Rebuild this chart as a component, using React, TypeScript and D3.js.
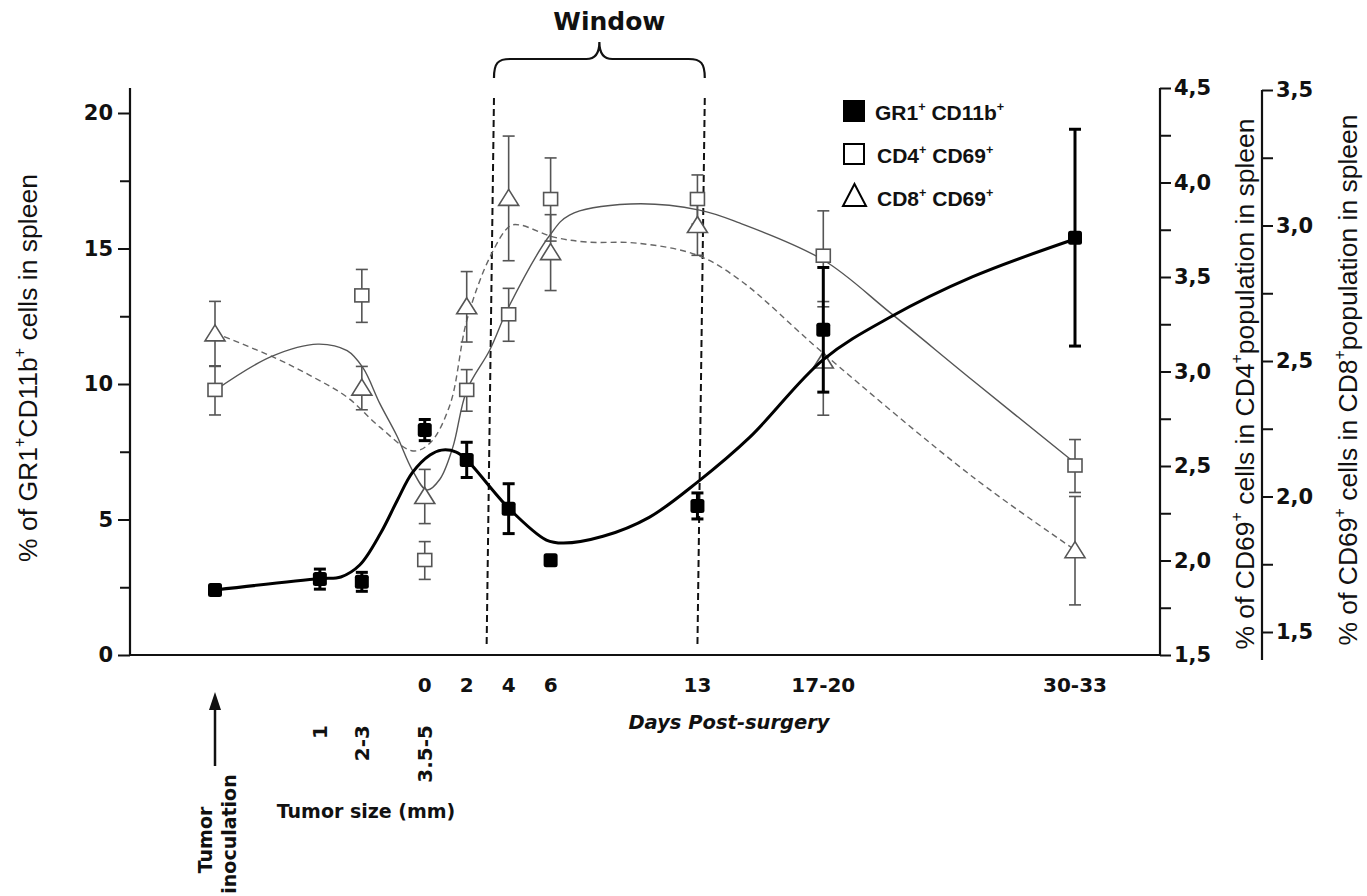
import React, { useEffect, useRef } from 'react';
import * as d3 from 'd3';

// x positions are plotted on a "days" scale (tumor inoculation = -10)
const gr1Days = [-10, -5, -3, 0, 2, 4, 6, 13, 19, 31];
const gr1Values = [2.4, 2.8, 2.7, 8.3, 7.2, 5.4, 3.5, 5.5, 12.0, 15.4];
const gr1Errors = [0.1, 0.37, 0.35, 0.39, 0.65, 0.92, 0.15, 0.48, 2.3, 4.0];

const cd4Days = [-10, -3, 0, 2, 4, 6, 13, 19, 31];
const cd4Values = [2.9, 3.4, 2.0, 2.9, 3.3, 3.91, 3.91, 3.61, 2.5];
const cd4Errors = [0.13, 0.14, 0.1, 0.11, 0.14, 0.22, 0.13, 0.24, 0.14];

const cd8Days = [-10, -3, 0, 2, 4, 6, 13, 19, 31];
const cd8Values = [2.6, 2.4, 2.0, 2.7, 3.1, 2.9, 3.0, 2.5, 1.8];
const cd8Errors = [0.12, 0.08, 0.1, 0.13, 0.23, 0.14, 0.11, 0.2, 0.2];

// fitted curves as drawn in the figure
const gr1FitDays = [-10, -5, -4, -3.1, -2.1, -1.3, -0.6, 0.25, 0.8, 1.5, 2, 4, 5.8, 6.6, 8.5, 10.7, 13, 15.5, 19, 22.2, 26.1, 31];
const gr1FitValues = [2.4, 2.82, 2.88, 3.32, 4.5, 5.72, 6.72, 7.38, 7.56, 7.49, 7.2, 5.42, 4.24, 4.13, 4.38, 5.08, 6.38, 8.04, 10.9, 12.47, 13.95, 15.35];

const cd4FitDays = [-10, -7.3, -5.1, -3.7, -2.95, -2.14, -1.33, -0.6, 0.1, 0.72, 1.34, 2.0, 3.1, 4.0, 5.97, 6.9, 9.8, 13.1, 15.0, 19.0, 22.2, 26.1, 31];
const cd4FitValues = [2.9, 3.08, 3.145, 3.11, 3.02, 2.83, 2.66, 2.48, 2.373, 2.43, 2.6, 2.9, 3.114, 3.341, 3.722, 3.828, 3.886, 3.854, 3.786, 3.59, 3.31, 2.955, 2.516];

const cd8FitDays = [-10, -7.24, -5.33, -3.71, -2.14, -0.56, 0.25, 1.2, 2.01, 3.11, 4.06, 4.54, 6.11, 7.73, 10.11, 12.97, 15.02, 18.98, 26.13, 31];
const cd8FitValues = [2.603, 2.515, 2.441, 2.367, 2.256, 2.168, 2.197, 2.338, 2.651, 2.884, 2.998, 3.002, 2.958, 2.939, 2.935, 2.891, 2.799, 2.53, 2.072, 1.803];

const dayTickDays = [0, 2, 4, 6, 13, 19, 31];
const dayTickLabels = ['0', '2', '4', '6', '13', '17-20', '30-33'];
const sizeTickDays = [-5, -3, 0];
const sizeTickLabels = ['1', '2-3', '3.5-5'];
const inoculationDay = -10;
const windowDays = [3.3, 13.35];

const leftTicks = [0, 5, 10, 15, 20];
const leftMinor = [2.5, 7.5, 12.5, 17.5];
const cd4Ticks = [1.5, 1.75, 2, 2.25, 2.5, 2.75, 3, 3.25, 3.5, 3.75, 4, 4.25, 4.5];
const cd8Ticks = [1.5, 1.75, 2, 2.25, 2.5, 2.75, 3, 3.25, 3.5];

const FONT = 'Arial, "Liberation Sans", Helvetica, sans-serif';
const WIDE = '"DejaVu Sans", Verdana, sans-serif';

type Seg = { t: string; sup?: boolean };

function addRich(sel: any, segs: Seg[], size: number) {
  segs.forEach((s) => {
    if (s.sup) {
      sel.append('tspan').attr('font-size', size * 0.6).attr('baseline-shift', `${size * 0.45}px`).text(s.t);
    } else {
      sel.append('tspan').text(s.t);
    }
  });
}

const App = () => {
  const ref = useRef<SVGSVGElement>(null);

  useEffect(() => {
    if (!ref.current) return;
    const svg = d3.select(ref.current);
    svg.selectAll('*').remove();

    const x = d3.scaleLinear().domain([-10, 31]).range([215, 1075]);
    const yGr1 = d3.scaleLinear().domain([0, 20]).range([655, 113]);
    const yCd4 = d3.scaleLinear().domain([1.5, 4.5]).range([655, 88]);
    const yCd8 = d3.scaleLinear().domain([1.5, 3.5]).range([632, 90]);

    const axL = 130, axR1 = 1160, axR2 = 1262, baseY = 655;
    const comma = (d: any) => d3.format('.1f')(d).replace('.', ',');

    // ---- axes
    svg.append('g').attr('transform', `translate(${axL},0)`)
      .call(d3.axisLeft(yGr1).tickValues(leftTicks).tickSize(12).tickSizeOuter(0).tickPadding(5));
    svg.append('g').attr('transform', `translate(${axL},0)`)
      .call(d3.axisLeft(yGr1).tickValues(leftMinor).tickSize(10).tickSizeOuter(0).tickFormat(() => ''));

    svg.append('g').attr('transform', `translate(${axR1},0)`)
      .call(d3.axisRight(yCd4).tickValues(cd4Ticks).tickSize(11).tickSizeOuter(0).tickPadding(3)
        .tickFormat((d: any) => (Math.round(d * 100) % 50 === 0 ? comma(d) : '')));

    svg.append('g').attr('transform', `translate(${axR2},0)`)
      .call(d3.axisRight(yCd8).tickValues(cd8Ticks).tickSize(11).tickSizeOuter(0).tickPadding(3)
        .tickFormat((d: any) => (Math.round(d * 100) % 50 === 0 ? comma(d) : '')));

    svg.selectAll('.domain').remove();
    svg.selectAll('.tick line').attr('stroke', '#111').attr('stroke-width', 2);
    svg.selectAll('.tick text').attr('font-family', WIDE).attr('font-weight', 'bold')
      .attr('font-size', 21).attr('fill', '#111');

    const axisLine = (x1: number, y1: number, x2: number, y2: number) =>
      svg.append('line').attr('x1', x1).attr('y1', y1).attr('x2', x2).attr('y2', y2)
        .attr('stroke', '#111').attr('stroke-width', 2.2);
    axisLine(axL, 88, axL, baseY);
    axisLine(axL, baseY, axR1, baseY);
    axisLine(axR1, yCd4(4.5), axR1, baseY);
    axisLine(axR2, yCd8(3.5), axR2, 660);

    // ---- axis titles
    const TS = 26.5;
    const title = (cx: number, cy: number, segs: Seg[]) => {
      const t = svg.append('text').attr('x', cx).attr('y', cy)
        .attr('transform', `rotate(-90,${cx},${cy})`)
        .attr('text-anchor', 'middle').attr('font-family', FONT).attr('font-size', TS).attr('fill', '#111');
      addRich(t, segs, TS);
    };
    title(37, 368, [{ t: '% of GR1' }, { t: '+', sup: true }, { t: 'CD11b' }, { t: '+', sup: true }, { t: ' cells in spleen' }]);
    title(1254, 384, [{ t: '% of CD69' }, { t: '+', sup: true }, { t: ' cells in CD4' }, { t: '+', sup: true }, { t: 'population in spleen' }]);
    title(1357, 380, [{ t: '% of CD69' }, { t: '+', sup: true }, { t: ' cells in CD8' }, { t: '+', sup: true }, { t: 'population in spleen' }]);

    // ---- bottom labels
    const bold = (sel: any, fam = WIDE) => sel.attr('font-family', fam).attr('font-weight', 'bold').attr('fill', '#111');
    dayTickDays.forEach((d, i) => {
      bold(svg.append('text')).attr('x', x(d)).attr('y', 692).attr('text-anchor', 'middle')
        .attr('font-size', 20).text(dayTickLabels[i]);
    });
    bold(svg.append('text')).attr('x', 729).attr('y', 729).attr('text-anchor', 'middle')
      .attr('font-size', 19.5).attr('font-style', 'italic').text('Days Post-surgery');

    sizeTickDays.forEach((d, i) => {
      const cx = x(d) + 7, cy = 725;
      bold(svg.append('text')).attr('x', cx).attr('y', cy).attr('transform', `rotate(-90,${cx},${cy})`)
        .attr('text-anchor', 'end').attr('font-size', 20).text(sizeTickLabels[i]);
    });
    bold(svg.append('text')).attr('x', 366).attr('y', 818).attr('text-anchor', 'middle')
      .attr('font-size', 19).text('Tumor size (mm)');

    const xi = x(inoculationDay);
    svg.append('line').attr('x1', xi).attr('x2', xi).attr('y1', 766).attr('y2', 708)
      .attr('stroke', '#111').attr('stroke-width', 2.5);
    svg.append('path').attr('d', `M${xi},692 L${xi - 6},710 L${xi + 6},710 Z`).attr('fill', '#111');
    [['Tumor', xi - 3, 840], ['inoculation', xi + 21, 834]].forEach(([s, cx, cy]: any) => {
      bold(svg.append('text')).attr('x', cx).attr('y', cy).attr('transform', `rotate(-90,${cx},${cy})`)
        .attr('text-anchor', 'middle').attr('font-size', 19).text(s);
    });

    // ---- window
    const [w0, w1] = windowDays;
    [w0, w1].forEach((d) => {
      svg.append('line').attr('x1', x(d)).attr('y1', 98).attr('x2', x(d - 0.35)).attr('y2', 645)
        .attr('stroke', '#111').attr('stroke-width', 2).attr('stroke-dasharray', '7,4');
    });
    const xl = x(w0), xr = x(w1), xm = (xl + xr) / 2;
    svg.append('path')
      .attr('d', `M${xl},78 C${xl},63 ${xl + 4},59 ${xl + 16},59 L${xm - 13},59 C${xm - 4},59 ${xm},53 ${xm},42 C${xm},53 ${xm + 4},59 ${xm + 13},59 L${xr - 16},59 C${xr - 4},59 ${xr},63 ${xr},78`)
      .attr('fill', 'none').attr('stroke', '#111').attr('stroke-width', 2.2);
    bold(svg.append('text')).attr('x', xm + 10).attr('y', 30).attr('text-anchor', 'middle')
      .attr('font-size', 25).text('Window');

    // ---- fitted curves
    const curve = d3.curveCatmullRom.alpha(0.5);
    const lineGr1 = d3.line<number>().x((d) => x(d)).y((d, i) => yGr1(gr1FitValues[i])).curve(curve);
    const lineCd4 = d3.line<number>().x((d) => x(d)).y((d, i) => yCd4(cd4FitValues[i])).curve(curve);
    const lineCd8 = d3.line<number>().x((d) => x(d)).y((d, i) => yCd8(cd8FitValues[i])).curve(curve);

    svg.append('path').attr('d', lineCd8(cd8FitDays)).attr('fill', 'none')
      .attr('stroke', '#666').attr('stroke-width', 1.4).attr('stroke-dasharray', '6,4');
    svg.append('path').attr('d', lineCd4(cd4FitDays)).attr('fill', 'none')
      .attr('stroke', '#555').attr('stroke-width', 1.4);

    // ---- error bars
    const errBar = (cx: number, y0: number, y1: number, color: string, sw: number, cap: number) => {
      svg.append('line').attr('x1', cx).attr('x2', cx).attr('y1', y0).attr('y2', y1)
        .attr('stroke', color).attr('stroke-width', sw);
      [y0, y1].forEach((yy) => svg.append('line').attr('x1', cx - cap).attr('x2', cx + cap)
        .attr('y1', yy).attr('y2', yy).attr('stroke', color).attr('stroke-width', sw));
    };
    cd4Days.forEach((d, i) => errBar(x(d), yCd4(cd4Values[i] + cd4Errors[i]), yCd4(cd4Values[i] - cd4Errors[i]), '#555', 1.6, 6));
    cd8Days.forEach((d, i) => errBar(x(d), yCd8(cd8Values[i] + cd8Errors[i]), yCd8(cd8Values[i] - cd8Errors[i]), '#555', 1.6, 6));

    // ---- open markers
    cd4Days.forEach((d, i) => {
      svg.append('rect').attr('x', x(d) - 7).attr('y', yCd4(cd4Values[i]) - 7).attr('width', 14).attr('height', 13)
        .attr('fill', '#fff').attr('stroke', '#555').attr('stroke-width', 1.6);
    });
    cd8Days.forEach((d, i) => {
      const cx = x(d), cy = yCd8(cd8Values[i]);
      svg.append('path').attr('d', `M${cx},${cy - 9} L${cx + 10},${cy + 7} L${cx - 10},${cy + 7} Z`)
        .attr('fill', '#fff').attr('stroke', '#555').attr('stroke-width', 1.6);
    });

    // ---- GR1 curve, error bars and markers on top
    svg.append('path').attr('d', lineGr1(gr1FitDays)).attr('fill', 'none')
      .attr('stroke', '#000').attr('stroke-width', 3);
    gr1Days.forEach((d, i) => errBar(x(d), yGr1(gr1Values[i] + gr1Errors[i]), yGr1(gr1Values[i] - gr1Errors[i]), '#000', 3, 6));
    gr1Days.forEach((d, i) => {
      svg.append('rect').attr('x', x(d) - 7).attr('y', yGr1(gr1Values[i]) - 7).attr('width', 14).attr('height', 14)
        .attr('rx', 2.5).attr('fill', '#000');
    });

    // ---- legend
    const lg = svg.append('g').attr('transform', 'translate(843,100)');
    lg.append('rect').attr('x', 0).attr('y', 0).attr('width', 22).attr('height', 22).attr('fill', '#000');
    lg.append('rect').attr('x', 1).attr('y', 44).attr('width', 20).attr('height', 20)
      .attr('fill', '#fff').attr('stroke', '#000').attr('stroke-width', 2);
    lg.append('path').attr('d', 'M11.5,84 L23,106 L0,106 Z').attr('fill', '#fff').attr('stroke', '#000').attr('stroke-width', 2);
    const legendRows: Seg[][] = [
      [{ t: 'GR1' }, { t: '+', sup: true }, { t: ' CD11b' }, { t: '+', sup: true }],
      [{ t: 'CD4' }, { t: '+', sup: true }, { t: ' CD69' }, { t: '+', sup: true }],
      [{ t: 'CD8' }, { t: '+', sup: true }, { t: ' CD69' }, { t: '+', sup: true }],
    ];
    legendRows.forEach((segs, i) => {
      const t = bold(lg.append('text'), FONT).attr('x', i === 0 ? 32 : 34).attr('y', 20 + i * 43).attr('font-size', 21);
      addRich(t, segs, 21);
    });
  }, []);

  return (
    <svg ref={ref} width={1367} height={896}
      style={{ position: 'absolute', left: 0, top: 0, background: '#fff' }} />
  );
};

export default App;
